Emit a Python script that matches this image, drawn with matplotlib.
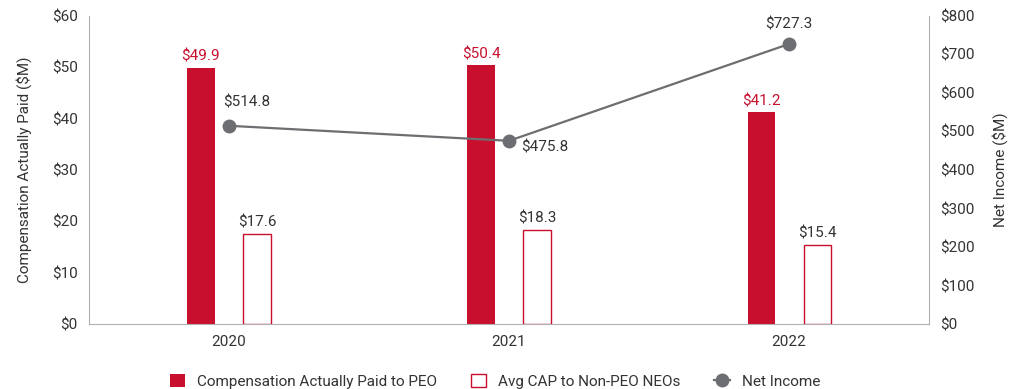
import matplotlib.pyplot as plt
import numpy as np

plt.rcParams['font.family'] = ['Roboto', 'DejaVu Sans']

years = ['2020', '2021', '2022']
cap_peo = [49.9, 50.4, 41.2]
cap_neo = [17.6, 18.3, 15.4]
net_income = [514.8, 475.8, 727.3]

RED = '#c8102e'
GREY = '#6d6e71'
TEXT = '#333333'
SPINE = '#b0b0b0'
FS = 11

fig = plt.figure(figsize=(10.1, 3.89), dpi=100)
ax = fig.add_axes([0.088, 0.167, 0.832, 0.792])
ax2 = ax.twinx()

x = np.arange(len(years))
w = 0.097
off = 0.1

ax.bar(x - off, cap_peo, width=w, color=RED, zorder=2,
       label='Compensation Actually Paid to PEO')
ax.bar(x + off, cap_neo, width=w, facecolor='white', edgecolor=RED,
       linewidth=1, zorder=2, label='Avg CAP to Non-PEO NEOs')

for xi, v in zip(x, cap_peo):
    ax.annotate(f'${v:.1f}', (xi - off, v), xytext=(0, 3),
                textcoords='offset points', ha='center', va='bottom',
                color=RED, fontsize=FS)
for xi, v in zip(x, cap_neo):
    ax.annotate(f'${v:.1f}', (xi + off, v), xytext=(0, 3),
                textcoords='offset points', ha='center', va='bottom',
                color=TEXT, fontsize=FS)

ax2.plot(x, net_income, color=GREY, lw=1.6, marker='o', markersize=9,
         zorder=3, label='Net Income')

# net income labels placed around each marker
offsets = [(-4, 12, 'left', 'bottom'), (9, -5, 'left', 'center'),
           (0, 9, 'center', 'bottom')]
for xi, v, (dx, dy, ha, va) in zip(x, net_income, offsets):
    ax2.annotate(f'${v:.1f}', (xi, v), xytext=(dx, dy),
                 textcoords='offset points', ha=ha, va=va,
                 color=TEXT, fontsize=FS)

ax.set_xlim(-0.5, 2.5)
ax.set_ylim(0, 60)
ax2.set_ylim(0, 800)
ax.set_yticks(range(0, 61, 10))
ax.set_yticklabels([f'${t}' for t in range(0, 61, 10)])
ax2.set_yticks(range(0, 801, 100))
ax2.set_yticklabels([f'${t}' for t in range(0, 801, 100)])
ax.set_xticks(x)
ax.set_xticklabels(years)

for a in (ax, ax2):
    a.spines['top'].set_visible(False)
    a.tick_params(length=0, labelsize=FS, colors=TEXT, pad=8)
    for s in ('left', 'right', 'bottom'):
        a.spines[s].set_color(SPINE)
ax.spines['right'].set_visible(False)
ax2.spines['left'].set_visible(False)
ax2.spines['bottom'].set_visible(False)

ax.set_ylabel('Compensation Actually Paid ($M)', color=TEXT, fontsize=FS,
              labelpad=14)
ax2.set_ylabel('Net Income ($M)', color=TEXT, fontsize=FS, labelpad=12)

h1, l1 = ax.get_legend_handles_labels()
h2, l2 = ax2.get_legend_handles_labels()
fig.legend(h1 + h2, l1 + l2, loc='lower center', bbox_to_anchor=(0.49, -0.035),
           ncol=3, frameon=False, fontsize=FS, handlelength=1.0,
           handleheight=0.9, columnspacing=2.2, labelcolor=TEXT)

plt.savefig('out.png', dpi=100)
